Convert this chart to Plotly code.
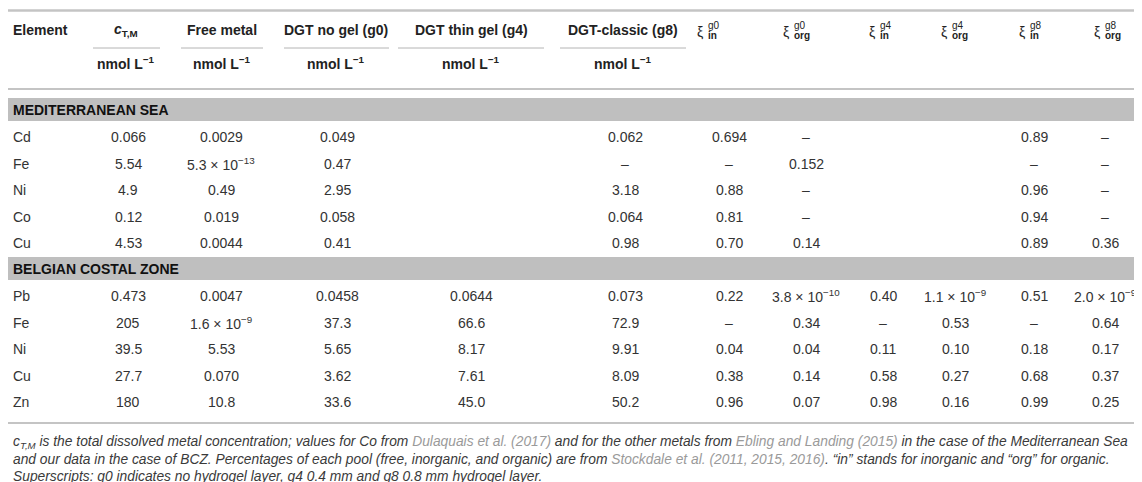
import plotly.graph_objects as go

W, H = 1142, 482

# column headers
col_titles = ["<i>c</i><sub>T,M</sub>", "Free metal", "DGT no gel (g0)",
              "DGT thin gel (g4)", "DGT-classic (g8)"]
unit_label = "nmol L<sup>−1</sup>"
xi_sub = ["in", "org", "in", "org", "in", "org"]
xi_sup = ["g0", "g0", "g4", "g4", "g8", "g8"]

# Mediterranean Sea
med_elements = ["Cd", "Fe", "Ni", "Co", "Cu"]
med_ctm = ["0.066", "5.54", "4.9", "0.12", "4.53"]
med_free = ["0.0029", "5.3 × 10<sup>−13</sup>", "0.49", "0.019", "0.0044"]
med_g0 = ["0.049", "0.47", "2.95", "0.058", "0.41"]
med_g4 = ["", "", "", "", ""]
med_g8 = ["0.062", "–", "3.18", "0.064", "0.98"]
med_xi_in_g0 = ["0.694", "–", "0.88", "0.81", "0.70"]
med_xi_org_g0 = ["–", "0.152", "–", "–", "0.14"]
med_xi_in_g4 = ["", "", "", "", ""]
med_xi_org_g4 = ["", "", "", "", ""]
med_xi_in_g8 = ["0.89", "–", "0.96", "0.94", "0.89"]
med_xi_org_g8 = ["–", "–", "–", "–", "0.36"]

# Belgian costal zone
bcz_elements = ["Pb", "Fe", "Ni", "Cu", "Zn"]
bcz_ctm = ["0.473", "205", "39.5", "27.7", "180"]
bcz_free = ["0.0047", "1.6 × 10<sup>−9</sup>", "5.53", "0.070", "10.8"]
bcz_g0 = ["0.0458", "37.3", "5.65", "3.62", "33.6"]
bcz_g4 = ["0.0644", "66.6", "8.17", "7.61", "45.0"]
bcz_g8 = ["0.073", "72.9", "9.91", "8.09", "50.2"]
bcz_xi_in_g0 = ["0.22", "–", "0.04", "0.38", "0.96"]
bcz_xi_org_g0 = ["3.8 × 10<sup>−10</sup>", "0.34", "0.04", "0.14", "0.07"]
bcz_xi_in_g4 = ["0.40", "–", "0.11", "0.58", "0.98"]
bcz_xi_org_g4 = ["1.1 × 10<sup>−9</sup>", "0.53", "0.10", "0.27", "0.16"]
bcz_xi_in_g8 = ["0.51", "–", "0.18", "0.68", "0.99"]
bcz_xi_org_g8 = ["2.0 × 10<sup>−9</sup>", "0.64", "0.17", "0.37", "0.25"]

sections = [
    ("MEDITERRANEAN SEA", med_elements,
     [med_ctm, med_free, med_g0, med_g4, med_g8, med_xi_in_g0, med_xi_org_g0,
      med_xi_in_g4, med_xi_org_g4, med_xi_in_g8, med_xi_org_g8]),
    ("BELGIAN COSTAL ZONE", bcz_elements,
     [bcz_ctm, bcz_free, bcz_g0, bcz_g4, bcz_g8, bcz_xi_in_g0, bcz_xi_org_g0,
      bcz_xi_in_g4, bcz_xi_org_g4, bcz_xi_in_g8, bcz_xi_org_g8]),
]

FONT = "Liberation Sans, Arial, sans-serif"
TXT = "#333333"
HEAD = "#222222"
RULE = "#c4c4c4"
BAND = "#bfbfbf"

# layout (pixel positions)
col_x = [120, 213, 329, 463, 617, 721, 798, 875, 947, 1026, 1097]
head_x = [118, 214, 328, 463, 615]
xi_head_x = [697, 783, 869, 941, 1019, 1094]
underline = [(85, 152), (173, 255), (276, 381), (390, 536), (552, 678)]
head_y, line_y, unit_y, rule_y = 22, 40, 55, 81
band_top, band_h, row_h = 90, 23, 26.5

fig = go.Figure()
fig.add_trace(go.Scatter(x=[0, W], y=[0, H], mode="markers",
                         marker=dict(opacity=0), hoverinfo="skip", showlegend=False))

ann = []
shapes = []


def txt(x, y, s, size=14, color=TXT, anchor="center"):
    ann.append(dict(x=x, y=y, xref="x", yref="y", text=s, showarrow=False,
                    xanchor=anchor, yanchor="middle",
                    font=dict(family=FONT, size=size, color=color)))


def hline(x0, x1, y, width=2, color=RULE):
    shapes.append(dict(type="line", xref="x", yref="y", x0=x0, x1=x1, y0=y, y1=y,
                       line=dict(color=color, width=width)))


# header
hline(0, W, 2.5, width=2.5)
txt(3, head_y, "<b>Element</b>", anchor="left", color=HEAD)
for i, t in enumerate(col_titles):
    txt(head_x[i], head_y, "<b>" + t + "</b>", color=HEAD)
    hline(underline[i][0], underline[i][1], line_y, width=1, color="#b4b4b4")
    txt(head_x[i], unit_y, "<b>" + unit_label + "</b>", color=HEAD)
for i, cx in enumerate(xi_head_x):
    txt(cx, head_y + 2, "ξ", size=14, color=HEAD, anchor="right")
    txt(cx + 0.5, head_y - 5, xi_sup[i], size=10, color=HEAD, anchor="left")
    txt(cx + 0.5, head_y + 5, "<b>" + xi_sub[i] + "</b>", size=10, color=HEAD, anchor="left")
hline(0, W, rule_y)

# body
for s, (name, elems, cols) in enumerate(sections):
    b0 = band_top + s * 6 * row_h
    shapes.append(dict(type="rect", xref="x", yref="y", x0=0, x1=W, y0=b0, y1=b0 + band_h,
                       fillcolor=BAND, line=dict(width=0), layer="below"))
    txt(3, b0 + band_h / 2, "<b>" + name + "</b>", anchor="left", color="#111111")
    for r, el in enumerate(elems):
        ry = b0 + band_h / 2 + (r + 1) * row_h + 1
        txt(3, ry, el, anchor="left")
        for c, vals in enumerate(cols):
            if vals[r]:
                txt(col_x[c], ry, vals[r])

hline(0, W, 415)

# footnote
REF = "#9a9a9a"
notes = [
    "<i>c</i><sub><i>T,M</i></sub> is the total dissolved metal concentration; values for Co from "
    "<span style='color:%s'>Dulaquais et al. (2017)</span> and for the other metals from "
    "<span style='color:%s'>Ebling and Landing (2015)</span> in the case of the Mediterranean Sea" % (REF, REF),
    "and our data in the case of BCZ. Percentages of each pool (free, inorganic, and organic) are from "
    "<span style='color:%s'>Stockdale et al. (2011, 2015, 2016)</span>. “in” stands for inorganic and “org” for organic." % REF,
    "Superscripts: g0 indicates no hydrogel layer, g4 0.4 mm and g8 0.8 mm hydrogel layer.",
]
for i, n in enumerate(notes):
    txt(3, 434 + 17 * i, "<i>" + n + "</i>", size=13.8, anchor="left", color="#3a3a3a")

fig.update_layout(
    width=W, height=H, margin=dict(l=0, r=0, t=0, b=0),
    paper_bgcolor="white", plot_bgcolor="white",
    xaxis=dict(range=[0, W], visible=False, fixedrange=True),
    yaxis=dict(range=[H, 0], visible=False, fixedrange=True),
    annotations=ann, shapes=shapes, showlegend=False,
)
fig.write_html("out.html")
